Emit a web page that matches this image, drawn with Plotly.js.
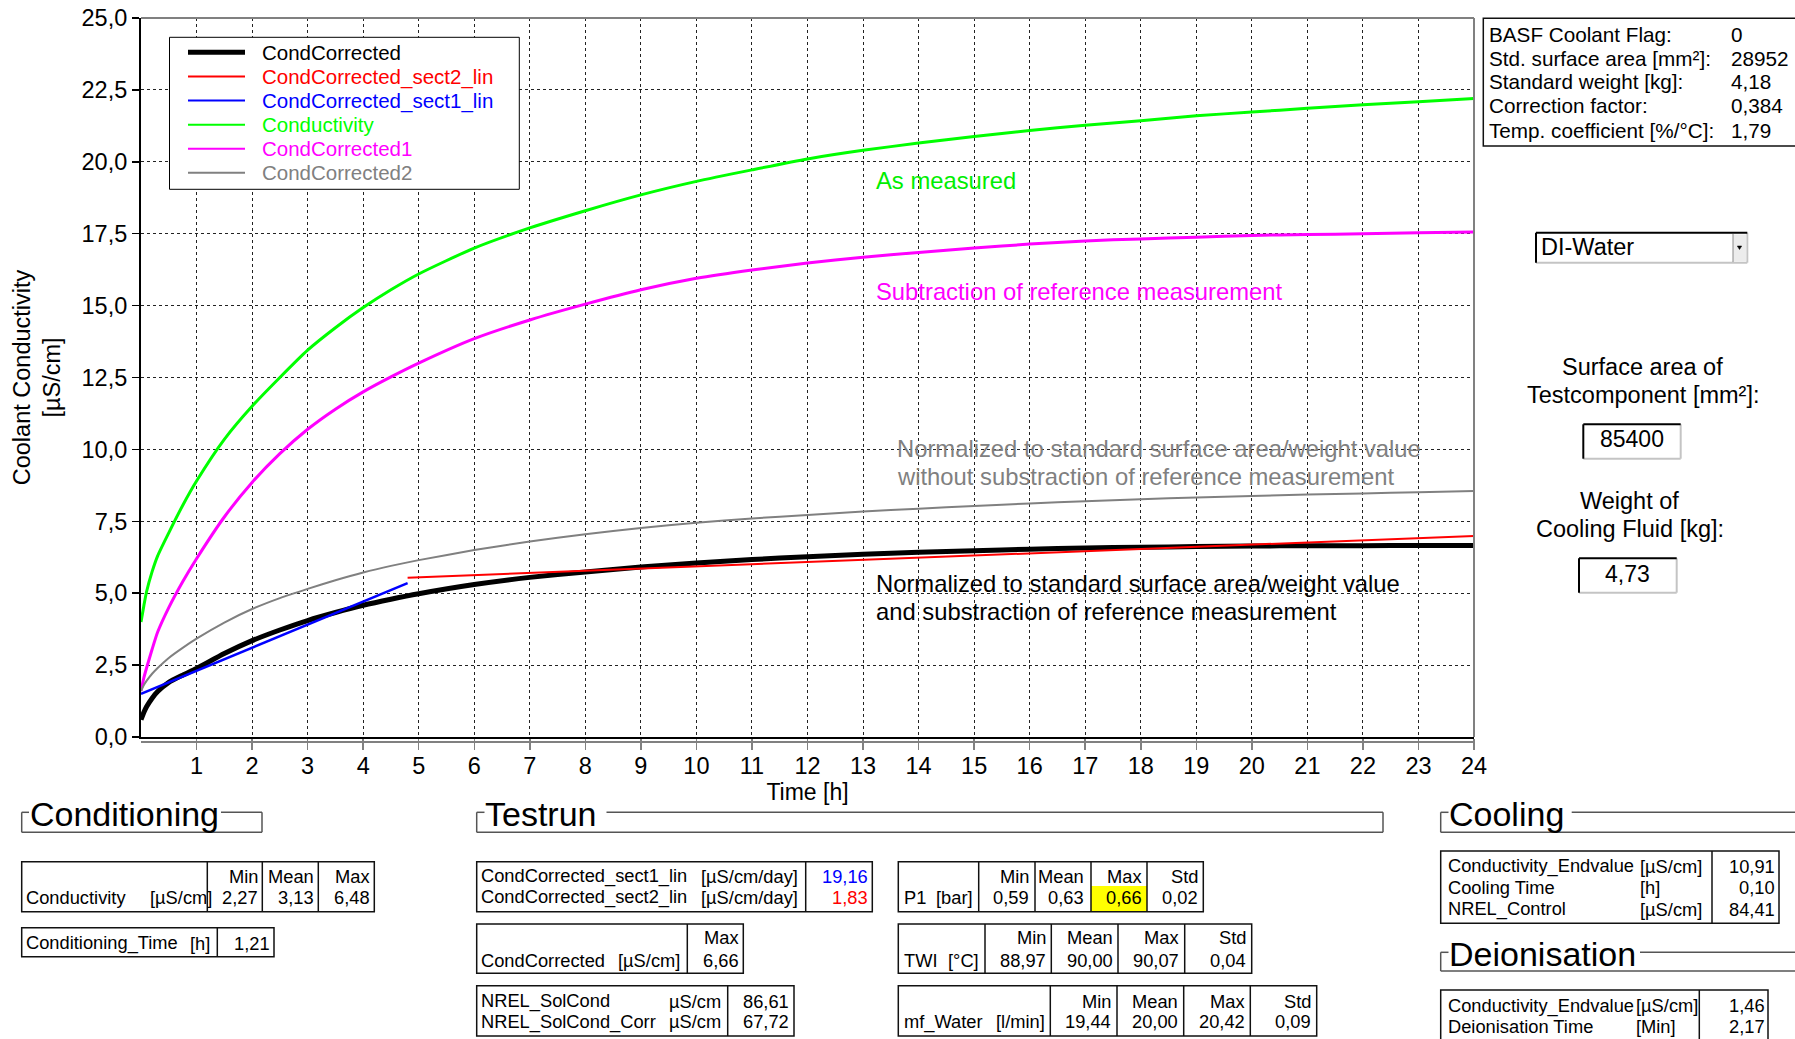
<!DOCTYPE html>
<html>
<head>
<meta charset="utf-8">
<script src="https://cdn.plot.ly/plotly-3.0.1.min.js"></script>
<style>
html,body{margin:0;padding:0;background:#fff;}
#chart{width:1795px;height:1039px;}
</style>
</head>
<body>
<div id="chart"></div>
<script>
// ---------------- DATA ----------------
const timeH = [0, 0.05, 0.1, 0.2, 0.3, 0.5, 0.75, 1, 1.5, 2, 2.5, 3, 3.5, 4, 4.5, 5, 6, 7, 8, 9, 10, 11, 12, 13, 14, 15, 16, 17, 18, 19, 20, 21, 22, 23, 24];
const conductivity = [4.0, 4.55, 5.05, 5.75, 6.3, 7.1, 8.05, 8.9, 10.35, 11.5, 12.5, 13.45, 14.23, 14.93, 15.55, 16.1, 17.0, 17.7, 18.3, 18.85, 19.32, 19.72, 20.1, 20.4, 20.65, 20.88, 21.09, 21.27, 21.43, 21.6, 21.73, 21.86, 21.98, 22.09, 22.2];
const condCorrected1 = [1.6, 2.05, 2.4, 3.05, 3.65, 4.5, 5.4, 6.2, 7.65, 8.85, 9.85, 10.7, 11.4, 12.0, 12.52, 13.0, 13.85, 14.5, 15.05, 15.55, 15.95, 16.24, 16.48, 16.68, 16.85, 17.0, 17.14, 17.25, 17.32, 17.38, 17.44, 17.47, 17.5, 17.53, 17.56];
const condCorrected2 = [1.6, 1.8, 1.95, 2.2, 2.4, 2.75, 3.1, 3.42, 3.98, 4.45, 4.83, 5.15, 5.45, 5.72, 5.95, 6.15, 6.5, 6.8, 7.05, 7.27, 7.45, 7.6, 7.72, 7.84, 7.94, 8.03, 8.12, 8.2, 8.27, 8.33, 8.38, 8.43, 8.47, 8.51, 8.55];
const condCorrected = [0.6, 0.85, 1.05, 1.35, 1.58, 1.9, 2.15, 2.38, 2.9, 3.35, 3.72, 4.05, 4.33, 4.58, 4.79, 4.98, 5.3, 5.55, 5.74, 5.91, 6.05, 6.17, 6.27, 6.35, 6.42, 6.48, 6.53, 6.57, 6.6, 6.62, 6.64, 6.65, 6.65, 6.66, 6.66];
const sect1Time = [0, 4.8];
const sect1Values = [1.5, 5.35];
const sect2Time = [4.8, 24];
const sect2Values = [5.54, 6.99];

const seriesNames = ['CondCorrected', 'CondCorrected_sect2_lin', 'CondCorrected_sect1_lin', 'Conductivity', 'CondCorrected1', 'CondCorrected2'];
const xTickVals = [1,2,3,4,5,6,7,8,9,10,11,12,13,14,15,16,17,18,19,20,21,22,23,24];
const yTickVals = [0, 2.5, 5, 7.5, 10, 12.5, 15, 17.5, 20, 22.5, 25];
const curveNotes = ['As measured', 'Subtraction of reference measurement',
  'Normalized to standard surface area/weight value', 'without substraction of reference measurement',
  'Normalized to standard surface area/weight value', 'and substraction of reference measurement'];

const infoLabels = ['BASF Coolant Flag:', 'Std. surface area [mm²]:', 'Standard weight [kg]:', 'Correction factor:', 'Temp. coefficient [%/°C]:'];
const infoValues = ['0', '28952', '4,18', '0,384', '1,79'];
const fluidType = 'DI-Water';
const surfaceLabel = ['Surface area of', 'Testcomponent [mm²]:'];
const surfaceArea = '85400';
const weightLabel = ['Weight of', 'Cooling Fluid [kg]:'];
const fluidWeight = '4,73';

const sectionTitles = ['Conditioning', 'Testrun', 'Cooling', 'Deionisation'];
const statHeaders = ['Min', 'Mean', 'Max', 'Std'];
const conditioningCond = ['2,27', '3,13', '6,48'];
const conditioningTime = '1,21';
const sectLabels = ['CondCorrected_sect1_lin', 'CondCorrected_sect2_lin'];
const sectSlopes = ['19,16', '1,83'];
const condCorrectedMax = '6,66';
const nrelLabels = ['NREL_SolCond', 'NREL_SolCond_Corr'];
const nrelValues = ['86,61', '67,72'];
const p1Stats = ['0,59', '0,63', '0,66', '0,02'];
const twiStats = ['88,97', '90,00', '90,07', '0,04'];
const mfWaterStats = ['19,44', '20,00', '20,42', '0,09'];
const coolingLabels = ['Conductivity_Endvalue', 'Cooling Time', 'NREL_Control'];
const coolingUnits = ['[µS/cm]', '[h]', '[µS/cm]'];
const coolingValues = ['10,91', '0,10', '84,41'];
const deionLabels = ['Conductivity_Endvalue', 'Deionisation Time'];
const deionUnits = ['[µS/cm]', '[Min]'];
const deionValues = ['1,46', '2,17'];

// ---------------- LAYOUT HELPERS ----------------
const FONT = 'Liberation Sans, Arial, Helvetica, sans-serif';
const L = 141, W = 1333, T = 18, H = 719;
const X = x => (x - L) / W;
const Y = y => (T + H - y) / H;
const shapes = [], annotations = [];
function line(x0, y0, x1, y1, color, width, layer) {
  shapes.push({type: 'line', xref: 'paper', yref: 'paper', x0: X(x0), y0: Y(y0), x1: X(x1), y1: Y(y1),
    line: {color: color, width: width}, layer: layer || 'above'});
}
function rect(x0, y0, x1, y1, fill, color, width) {
  shapes.push({type: 'rect', xref: 'paper', yref: 'paper', x0: X(x0), y0: Y(y0), x1: X(x1), y1: Y(y1),
    fillcolor: fill || 'rgba(0,0,0,0)', line: {color: color || 'rgba(0,0,0,0)', width: width || 0}, layer: 'above'});
}
function txt(x, y, t, size, color, anchor) {
  annotations.push({xref: 'paper', yref: 'paper', x: X(x), y: Y(y), text: t, showarrow: false,
    xanchor: anchor || 'left', yanchor: 'middle', align: anchor === 'right' ? 'right' : (anchor === 'center' ? 'center' : 'left'),
    borderpad: 0, borderwidth: 0, font: {family: FONT, size: size, color: color || '#000'}});
}
function box(x0, y0, x1, y1, seps) {
  rect(x0, y0, x1, y1, null, '#111', 1.5);
  seps.forEach(s => line(s, y0, s, y1, '#111', 1.5));
}
function groupBox(x0, x1, yTop, yBot, tStart, tEnd, hasRight) {
  const c = '#555', w = 1.5;
  line(x0, yTop, x0, yBot, c, w);
  line(x0, yBot, x1, yBot, c, w);
  line(x0, yTop, tStart, yTop, c, w);
  line(tEnd, yTop, x1, yTop, c, w);
  if (hasRight) line(x1, yTop, x1, yBot, c, w);
}
function sunkenBox(x0, y0, x1, y1) {
  rect(x0, y0, x1, y1, '#fff', null, 0);
  line(x0, y1, x1, y1, '#c4c4c4', 2);
  line(x1, y0, x1, y1, '#c4c4c4', 2);
  line(x0, y0, x1, y0, '#000', 2);
  line(x0, y0, x0, y1, '#000', 2);
}

// plot frame extras
line(141, 18, 1474, 18, '#808080', 2);
line(1474, 18, 1474, 737, '#808080', 2);
line(141, 742, 1474, 742, '#808080', 2);

// manual legend
const legendColors = ['#000000', '#ff0000', '#0000ff', '#00ff00', '#ff00ff', '#808080'];
const legendWidths = [5, 2, 2, 2, 2, 2];
const legendRows = [52.3, 76.5, 100.5, 124.7, 148.7, 172.7];
rect(169.5, 37.3, 519.3, 189.3, '#fff', '#000', 1);
seriesNames.forEach((n, i) => {
  line(188, legendRows[i], 245, legendRows[i], legendColors[i], legendWidths[i]);
  txt(262, legendRows[i], n, 20.5, legendColors[i], 'left');
});

// curve notes
const NF = 23.8;
txt(876, 180, curveNotes[0], NF, '#00ee00');
txt(876, 291, curveNotes[1], NF, '#ff00ff');
txt(896.5, 448.3, curveNotes[2], NF, '#808080');
txt(896.5, 476, curveNotes[3], NF, '#808080');
txt(876, 583.3, curveNotes[4], NF, '#000');
txt(876, 611.7, curveNotes[5], NF, '#000');

// right panel
rect(1483.3, 18.3, 1800, 146, '#fff', '#111', 1.5);
const infoRows = [34.3, 58.3, 82, 106, 130];
infoLabels.forEach((l, i) => { txt(1489, infoRows[i], l, 20.7); txt(1730.5, infoRows[i], infoValues[i], 20.7); });

sunkenBox(1536, 232.7, 1747.3, 262.7);
rect(1733, 234.5, 1746.2, 261.5, '#ececec', null, 0);
line(1733, 234, 1733, 262, '#888', 1);
shapes.push({type: 'path', xref: 'paper', yref: 'paper', layer: 'above',
  path: 'M' + X(1737.3) + ',' + Y(246) + ' L' + X(1741.7) + ',' + Y(246) + ' L' + X(1739.5) + ',' + Y(249.5) + ' Z',
  fillcolor: '#000', line: {color: '#000', width: 0.5}});
txt(1541, 247.3, fluidType, 23.5);

txt(1642.7, 366.7, surfaceLabel[0], 23.5, '#000', 'center');
txt(1642.7, 395, surfaceLabel[1], 23.5, '#000', 'center');
sunkenBox(1583.3, 424.3, 1680.7, 458.7);
txt(1631.7, 438.5, surfaceArea, 23, '#000', 'center');
txt(1629.7, 501, weightLabel[0], 23.5, '#000', 'center');
txt(1629.5, 529.3, weightLabel[1], 23.5, '#000', 'center');
sunkenBox(1579, 558.3, 1676.7, 592.7);
txt(1627.7, 573.5, fluidWeight, 23, '#000', 'center');

// section headers / group boxes
const HF = 34;
groupBox(21.7, 262, 812.3, 832.3, 29, 221, true);
txt(29.5, 814, sectionTitles[0], HF);
groupBox(476.7, 1383, 812.3, 832.3, 484.5, 606.5, true);
txt(485, 814, sectionTitles[1], HF);
groupBox(1440.7, 1800, 812.3, 832.3, 1448.5, 1571.7, false);
txt(1449, 814, sectionTitles[2], HF);
groupBox(1440.7, 1800, 952.3, 971, 1448.5, 1640, false);
txt(1449, 954, sectionTitles[3], HF);

const TF = 18.3;
// Conditioning tables
box(21.7, 861.7, 374.3, 911.7, [207.3, 262.3, 318.3]);
[258.3, 313.5, 369.5].forEach((r, i) => { txt(r, 876, statHeaders[i], TF, '#000', 'right'); txt(r, 897.3, conditioningCond[i], TF, '#000', 'right'); });
txt(26, 897.3, 'Conductivity', TF); txt(150, 897.3, '[µS/cm]', TF);
box(21.7, 927.7, 274, 956.7, [217.3]);
txt(26, 943, 'Conditioning_Time', TF); txt(189.5, 943, '[h]', TF);
txt(269.5, 943, conditioningTime, TF, '#000', 'right');

// Testrun tables
box(476.7, 861.7, 872.3, 911.7, [805.7]);
const sectColors = ['#0000ff', '#ff0000'];
[876, 897.3].forEach((y, i) => {
  txt(481, y, sectLabels[i], TF); txt(701, y, '[µS/cm/day]', TF);
  txt(867.5, y, sectSlopes[i], TF, sectColors[i], 'right');
});
box(476.7, 924, 743.3, 973.3, [687.3]);
txt(738.5, 937.7, statHeaders[2], TF, '#000', 'right');
txt(481, 960, 'CondCorrected', TF); txt(617.5, 960, '[µS/cm]', TF);
txt(738.5, 960, condCorrectedMax, TF, '#000', 'right');
box(476.7, 985.7, 794, 1036, [727.7]);
[1001, 1021.7].forEach((y, i) => {
  txt(481, y, nrelLabels[i], TF); txt(668.5, y, 'µS/cm', TF);
  txt(789, y, nrelValues[i], TF, '#000', 'right');
});

rect(1091, 886, 1147, 911.7, '#ffff00', null, 0);
box(898.3, 861.7, 1203.3, 911.7, [978.7, 1035, 1091, 1147]);
[1028.5, 1084.3, 1142, 1197.8].forEach((r, i) => { txt(r, 876, statHeaders[i], TF, '#000', 'right'); txt(r, 897.3, p1Stats[i], TF, '#000', 'right'); });
txt(903.5, 897.3, 'P1', TF); txt(936, 897.3, '[bar]', TF);

box(898.3, 924, 1251.7, 973.3, [985, 1051.3, 1118, 1184.7]);
[1046, 1112.6, 1179.3, 1246].forEach((r, i) => { txt(r, 937.7, statHeaders[i], TF, '#000', 'right'); txt(r, 960, twiStats[i], TF, '#000', 'right'); });
txt(903.5, 960, 'TWI', TF); txt(947.5, 960, '[°C]', TF);

box(898.3, 985.7, 1316.7, 1036, [1050.3, 1117, 1183.7, 1250.3]);
[1111.3, 1178, 1244.6, 1311.3].forEach((r, i) => { txt(r, 1001, statHeaders[i], TF, '#000', 'right'); txt(r, 1021.7, mfWaterStats[i], TF, '#000', 'right'); });
txt(903.5, 1021.7, 'mf_Water', TF); txt(995.5, 1021.7, '[l/min]', TF);

// Cooling / Deionisation tables
box(1440.7, 851, 1779, 923.3, [1712]);
[866, 887.3, 909].forEach((y, i) => {
  txt(1447.5, y, coolingLabels[i], TF); txt(1640, y, coolingUnits[i], TF);
  txt(1775.5, y, coolingValues[i], TF, '#000', 'right');
});
box(1440.7, 990, 1768, 1046, [1699.3]);
[1005.7, 1026.7].forEach((y, i) => {
  txt(1447.5, y, deionLabels[i], TF); txt(1636, y, deionUnits[i], TF);
  txt(1764.5, y, deionValues[i], TF, '#000', 'right');
});

// ---------------- TRACES ----------------
const sm = 0.6;
const traces = [
  {x: timeH, y: conductivity, name: seriesNames[3], mode: 'lines', line: {color: '#00ff00', width: 3, shape: 'spline', smoothing: sm}},
  {x: timeH, y: condCorrected1, name: seriesNames[4], mode: 'lines', line: {color: '#ff00ff', width: 3, shape: 'spline', smoothing: sm}},
  {x: timeH, y: condCorrected2, name: seriesNames[5], mode: 'lines', line: {color: '#808080', width: 2, shape: 'spline', smoothing: sm}},
  {x: timeH, y: condCorrected, name: seriesNames[0], mode: 'lines', line: {color: '#000000', width: 5, shape: 'spline', smoothing: sm}},
  {x: sect2Time, y: sect2Values, name: seriesNames[1], mode: 'lines', line: {color: '#ff0000', width: 2}},
  {x: sect1Time, y: sect1Values, name: seriesNames[2], mode: 'lines', line: {color: '#0000ff', width: 2.5}}
];

const axisFont = {family: FONT, size: 23.5, color: '#000'};
const layout = {
  width: 1795, height: 1039,
  margin: {l: L, r: 1795 - L - W, t: T, b: 1039 - T - H, pad: 0},
  paper_bgcolor: '#fff', plot_bgcolor: '#fff',
  showlegend: false,
  separators: ',.',
  font: {family: FONT, color: '#000'},
  xaxis: {
    range: [0, 24], tickvals: xTickVals, ticks: 'outside', ticklen: 11, tickwidth: 1.5, tickcolor: '#808080',
    ticklabelstandoff: -4,
    showline: true, linecolor: '#000', linewidth: 2, zeroline: false,
    showgrid: true, gridcolor: '#222', gridwidth: 1, griddash: '3px,3px',
    tickfont: axisFont, automargin: false, fixedrange: true,
    title: {text: 'Time [h]', font: {family: FONT, size: 23, color: '#000'}, standoff: 4}
  },
  yaxis: {
    range: [0, 25], tickvals: yTickVals, tickformat: '.1f', ticks: 'outside', ticklen: 7, tickwidth: 1.5, tickcolor: '#000',
    showline: true, linecolor: '#000', linewidth: 2, zeroline: false,
    showgrid: true, gridcolor: '#222', gridwidth: 1, griddash: '3px,3px',
    tickfont: axisFont, automargin: false, fixedrange: true,
    title: {text: 'Coolant Conductivity<br>[µS/cm]', font: axisFont, standoff: 14}
  },
  shapes: shapes,
  annotations: annotations
};

Plotly.newPlot('chart', traces, layout, {displayModeBar: false, staticPlot: true});
</script>
</body>
</html>
